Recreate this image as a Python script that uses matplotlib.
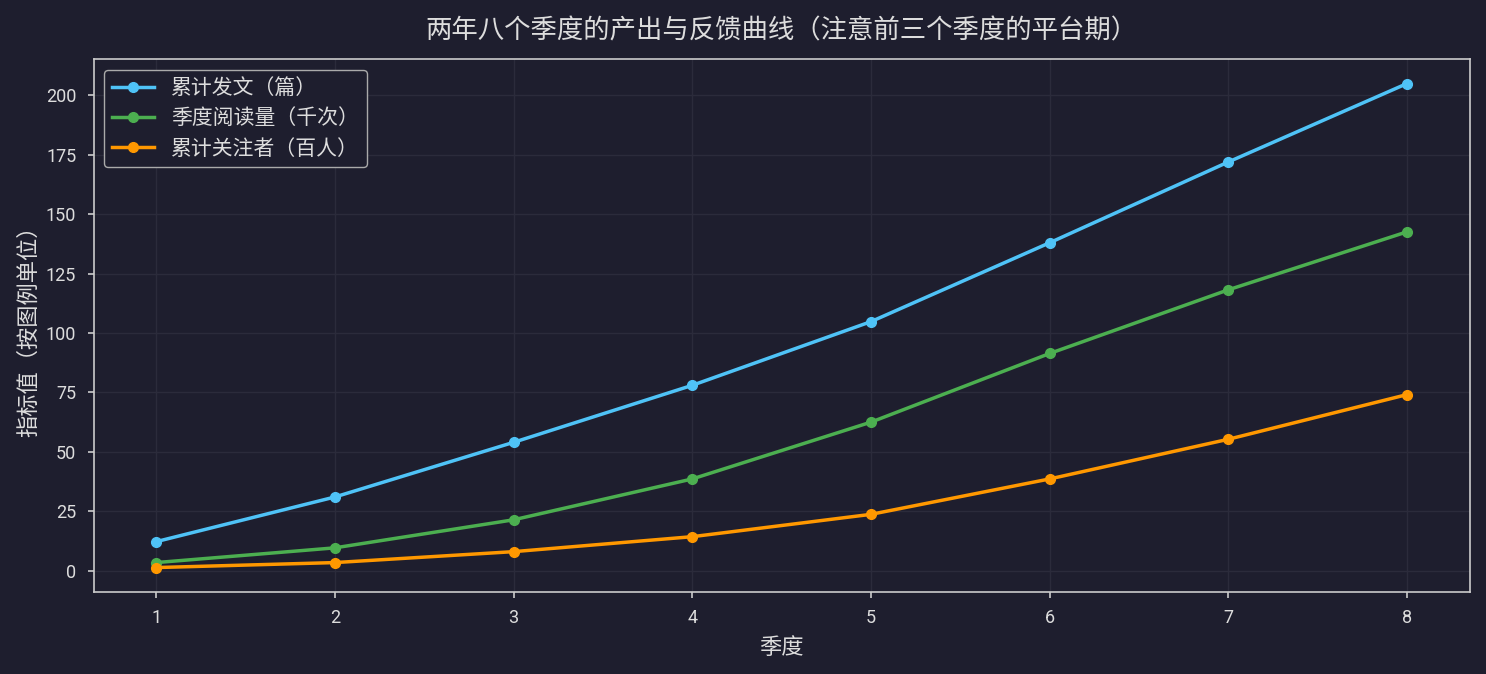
import matplotlib
matplotlib.use("Agg")
import matplotlib.pyplot as plt

plt.rcParams["font.family"] = ["Roboto", "Noto Sans CJK SC", "DejaVu Sans"]

quarters = [1, 2, 3, 4, 5, 6, 7, 8]
posts_total = [12.2, 31, 54, 78, 104.8, 138, 172, 205]
reads_quarter = [3.4, 9.6, 21.4, 38.6, 62.5, 91.4, 118.2, 142.6]
followers_total = [1.3, 3.4, 8, 14.3, 23.7, 38.6, 55.3, 74.1]

series_labels = ["累计发文（篇）", "季度阅读量（千次）", "累计关注者（百人）"]
series_colors = ["#4fc3f7", "#4caf50", "#ff9800"]

bg = "#1e1e2e"
text_color = "#dddddd"
spine_color = "#cccccc"

fig, ax = plt.subplots(figsize=(14.86, 6.74), dpi=100)
fig.patch.set_facecolor(bg)
ax.set_facecolor(bg)

for vals, label, color in zip([posts_total, reads_quarter, followers_total], series_labels, series_colors):
    ax.plot(quarters, vals, marker="o", markersize=7, linewidth=2.5, color=color, label=label)

ax.set_xticks(quarters)
ax.grid(True, color="#2b2b3b", linewidth=1)
for s in ax.spines.values():
    s.set_color(spine_color)
    s.set_linewidth(1.2)
ax.tick_params(colors=spine_color, labelcolor=text_color, labelsize=13, length=4.5, width=1.2, pad=8)

ax.set_title("两年八个季度的产出与反馈曲线（注意前三个季度的平台期）", color=text_color, fontsize=19, pad=15)
ax.set_xlabel("季度", color=text_color, fontsize=16, labelpad=8)
ax.set_ylabel("指标值（按图例单位）", color=text_color, fontsize=16)

leg = ax.legend(loc="upper left", fontsize=15, facecolor=bg, edgecolor="#aaaaaa", framealpha=1)
for t in leg.get_texts():
    t.set_color(text_color)

fig.subplots_adjust(left=0.063, right=0.989, top=0.912, bottom=0.122)
fig.savefig("out.png", dpi=100, facecolor=bg)
